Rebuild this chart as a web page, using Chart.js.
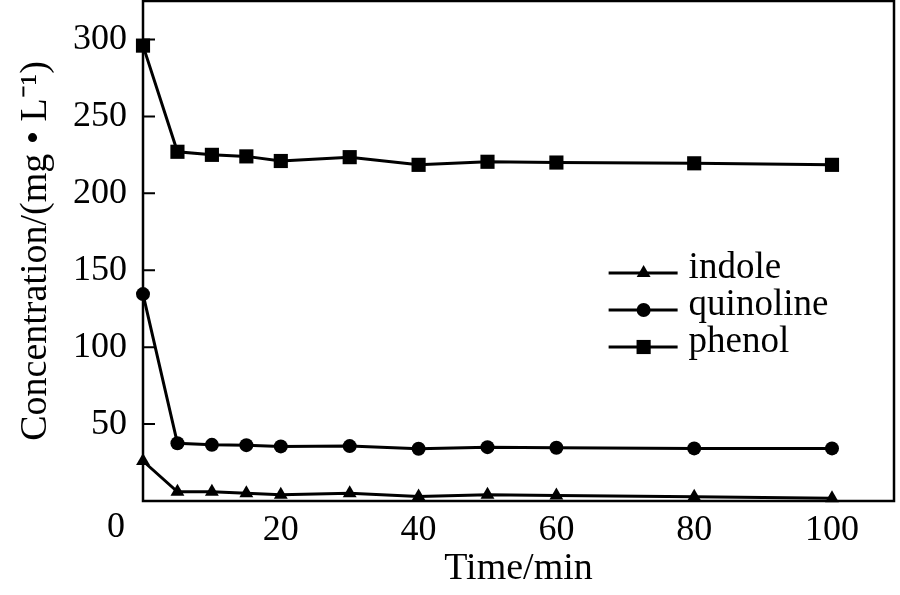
<!DOCTYPE html>
<html lang="en">
<head>
<meta charset="UTF-8">
<title>Concentration vs time</title>
<script src="https://cdn.jsdelivr.net/npm/chart.js"></script>
<style>
  html, body { margin: 0; padding: 0; background: #fff; }
</style>
</head>
<body>
<canvas id="chart" width="900" height="595"></canvas>
<script>
  // sampling times (min)
  const times = [0, 5, 10, 15, 20, 30, 40, 50, 60, 80, 100];
  // concentrations (mg/L)
  const indole    = [26, 6, 6, 5, 4, 5, 3, 4, 3.5, 2.8, 1.8];
  const quinoline = [134.5, 37.5, 36.5, 36.3, 35.5, 35.7, 34, 35, 34.6, 34.2, 34.2];
  const phenol    = [296, 227, 225, 224, 221, 223.5, 218.5, 220.5, 220, 219.5, 218.5];
  const seriesNames = ['indole', 'quinoline', 'phenol'];
  const xTicks = [0, 20, 40, 60, 80, 100];
  const yTicks = [50, 100, 150, 200, 250, 300];

  const FONT = "'Liberation Serif', 'Times New Roman', serif";
  const styles = ['triangle', 'circle', 'rect'];
  const radii = [8, 7, 10];

  function toPoints(vals) {
    return times.map((t, i) => ({ x: t, y: vals[i] }));
  }

  const datasets = [indole, quinoline, phenol].map((vals, i) => ({
    label: seriesNames[i],
    data: toPoints(vals),
    borderColor: '#000',
    backgroundColor: '#000',
    borderWidth: 3,
    pointStyle: styles[i],
    pointRadius: radii[i],
    pointBorderWidth: 0,
    tension: 0,
    clip: false
  }));

  function marker(ctx, style, r, x, y) {
    ctx.beginPath();
    if (style === 'circle') {
      ctx.arc(x, y, r, 0, Math.PI * 2);
    } else if (style === 'rect') {
      const s = r * Math.SQRT1_2;
      ctx.rect(x - s, y - s, 2 * s, 2 * s);
    } else {
      ctx.moveTo(x, y - r);
      ctx.lineTo(x + r * Math.sin(Math.PI * 2 / 3), y + r / 2);
      ctx.lineTo(x - r * Math.sin(Math.PI * 2 / 3), y + r / 2);
      ctx.closePath();
    }
    ctx.fill();
  }

  // frame, inner tick marks, origin label and the legend
  const extras = {
    id: 'extras',
    afterDraw(chart) {
      const { ctx, chartArea: a } = chart;
      const ys = chart.scales.y, xs = chart.scales.x;
      ctx.save();
      ctx.strokeStyle = '#000';
      ctx.lineWidth = 2.5;
      ctx.strokeRect(a.left, a.top, a.right - a.left, a.bottom - a.top);
      ctx.lineWidth = 2;
      ctx.beginPath();
      yTicks.forEach(v => {
        const py = ys.getPixelForValue(v);
        ctx.moveTo(a.left, py);
        ctx.lineTo(a.left + 12, py);
      });
      ctx.stroke();

      ctx.fillStyle = '#000';
      ctx.font = '36px ' + FONT;
      ctx.textAlign = 'center';
      ctx.textBaseline = 'top';
      ctx.fillText('0', xs.getPixelForValue(0) - 27, a.bottom + 9);

      // legend
      const w = a.right - a.left, h = a.bottom - a.top;
      const lx = a.left + 0.62 * w;
      let ly = a.top + 0.544 * h;
      ctx.font = '37px ' + FONT;
      ctx.textAlign = 'left';
      ctx.textBaseline = 'alphabetic';
      seriesNames.forEach((name, i) => {
        ctx.lineWidth = 3;
        ctx.beginPath();
        ctx.moveTo(lx, ly);
        ctx.lineTo(lx + 69, ly);
        ctx.stroke();
        marker(ctx, styles[i], radii[i], lx + 35, ly);
        ctx.fillText(name, lx + 80, ly + 5);
        ly += 37;
      });
      ctx.restore();
    }
  };

  new Chart(document.getElementById('chart'), {
    type: 'line',
    data: { datasets },
    plugins: [extras],
    options: {
      responsive: false,
      devicePixelRatio: 1,
      animation: false,
      layout: { autoPadding: false, padding: { top: 1, right: 6, left: 0, bottom: 0 } },
      plugins: { legend: { display: false }, tooltip: { enabled: false } },
      scales: {
        x: {
          type: 'linear',
          min: 0,
          max: 109,
          afterBuildTicks: s => { s.ticks = xTicks.map(v => ({ value: v })); },
          afterFit: s => {
            s.height = 94;
            s.paddingLeft = 0;
            s.paddingRight = 0;
          },
          grid: { display: false, drawTicks: false },
          border: { display: false },
          ticks: {
            color: '#000',
            padding: 8,
            maxRotation: 0,
            font: { family: FONT, size: 36 },
            callback: v => (v === 0 ? '' : v)
          },
          title: {
            display: true,
            text: 'Time/min',
            color: '#000',
            font: { family: FONT, size: 38 },
            padding: { top: 0, bottom: 3 }
          }
        },
        y: {
          min: 0,
          max: 325,
          afterBuildTicks: s => { s.ticks = yTicks.map(v => ({ value: v })); },
          afterFit: s => {
            s.width = 143;
            s.paddingTop = 0;
            s.paddingBottom = 0;
          },
          grid: { display: false, drawTicks: false },
          border: { display: false },
          ticks: {
            color: '#000',
            padding: 16,
            font: { family: FONT, size: 36 }
          },
          title: {
            display: true,
            text: 'Concentration/(mg • L⁻¹)',
            color: '#000',
            font: { family: FONT, size: 38 },
            padding: { top: 13, bottom: 0 }
          }
        }
      }
    }
  });
</script>
</body>
</html>
